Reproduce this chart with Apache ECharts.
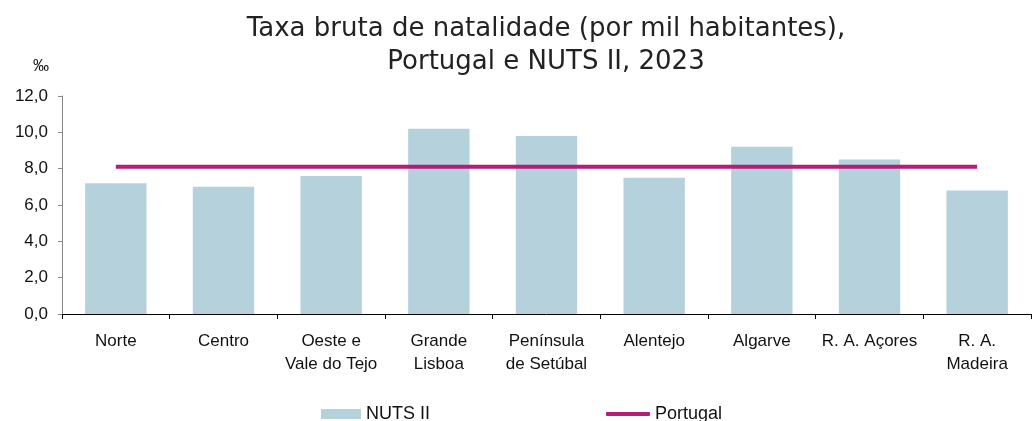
<!DOCTYPE html>
<html lang="pt">
<head>
    <meta charset="UTF-8">
    <title>Taxa bruta de natalidade</title>
    <script src="https://cdn.jsdelivr.net/npm/echarts@6/dist/echarts.min.js"></script>
    <style>
        html, body { margin: 0; padding: 0; background: #fff; }
        #main { width: 1035px; height: 421px; }
    </style>
</head>
<body>
<div id="main"></div>
<script>
    // dados
    const regioes = ['Norte', 'Centro', 'Oeste e\nVale do Tejo', 'Grande\nLisboa', 'Península\nde Setúbal',
        'Alentejo', 'Algarve', 'R. A. Açores', 'R. A.\nMadeira'];
    const nutsII = [7.2, 7.0, 7.6, 10.2, 9.8, 7.5, 9.2, 8.5, 6.8];
    const portugal = [8.1, 8.1, 8.1, 8.1, 8.1, 8.1, 8.1, 8.1, 8.1];

    const fonte = 'Liberation Sans, Arial, sans-serif';
    const fmt = v => v.toFixed(1).replace('.', ',');

    let chart = echarts.init(document.getElementById('main'));

    let options = {
        animation: false,
        textStyle: { fontFamily: fonte },
        title: {
            text: 'Taxa bruta de natalidade (por mil habitantes),\nPortugal e NUTS II, 2023',
            left: 541,
            textAlign: 'center',
            top: 8,
            textStyle: {
                fontFamily: 'DejaVu Sans, sans-serif',
                fontSize: 26,
                fontWeight: 'normal',
                color: '#222',
                lineHeight: 33
            }
        },
        legend: [{
            data: ['NUTS II'],
            left: 321,
            top: 405,
            padding: 0,
            itemWidth: 40,
            itemHeight: 10,
            icon: 'rect',
            textStyle: { fontSize: 18, color: '#111', fontFamily: fonte }
        }, {
            data: ['Portugal'],
            left: 606,
            top: 405,
            padding: 0,
            itemWidth: 44,
            itemHeight: 4,
            icon: 'roundRect',
            textStyle: { fontSize: 18, color: '#111', fontFamily: fonte }
        }],
        grid: {
            left: 62,
            right: 4,
            top: 96,
            bottom: 107,
            containLabel: false
        },
        xAxis: {
            type: 'category',
            data: regioes,
            boundaryGap: true,
            axisLine: { lineStyle: { color: '#000', width: 1 } },
            axisTick: { show: true, alignWithLabel: false, length: 5, lineStyle: { color: '#000' } },
            axisLabel: {
                interval: 0,
                fontSize: 17,
                color: '#111',
                lineHeight: 23,
                margin: 16
            }
        },
        yAxis: {
            type: 'value',
            min: 0,
            max: 12,
            interval: 2,
            name: '‰',
            nameLocation: 'end',
            nameGap: 21,
            nameTextStyle: { fontSize: 16, color: '#111', align: 'right', padding: [0, 13, 0, 0] },
            axisLine: { show: true, lineStyle: { color: '#888' } },
            axisTick: { show: true, length: 4, lineStyle: { color: '#888' } },
            splitLine: { show: false },
            axisLabel: {
                fontSize: 17,
                color: '#111',
                margin: 14,
                formatter: fmt
            }
        },
        series: [{
            name: 'NUTS II',
            type: 'bar',
            data: nutsII,
            barWidth: '57%',
            itemStyle: { color: '#b4d1dc' }
        }, {
            name: 'Portugal',
            type: 'line',
            data: portugal,
            symbol: 'none',
            lineStyle: { color: '#b51c78', width: 4 },
            itemStyle: { color: '#b51c78' }
        }]
    };

    chart.setOption(options);
</script>
</body>
</html>
